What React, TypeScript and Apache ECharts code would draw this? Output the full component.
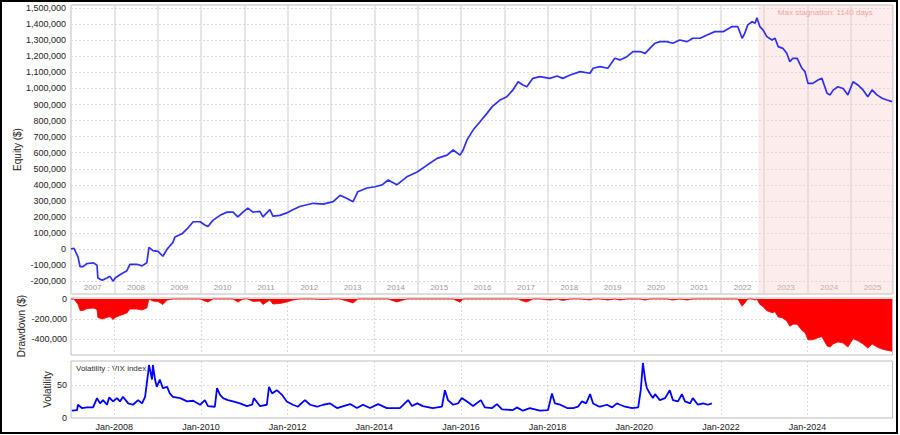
import React, { useEffect, useRef } from 'react';
import * as echarts from 'echarts';

// ---- Equity curve (decimal year, $) ----
const equityYears = [
  2007.0, 2007.07, 2007.12, 2007.16, 2007.21, 2007.28, 2007.37, 2007.48, 2007.51, 2007.6,
  2007.62, 2007.72, 2007.83, 2007.9, 2007.97, 2008.02, 2008.13, 2008.29, 2008.36, 2008.52,
  2008.64, 2008.75, 2008.8, 2008.89, 2009.01, 2009.12, 2009.22, 2009.35, 2009.4, 2009.56,
  2009.68, 2009.82, 2009.98, 2010.09, 2010.16, 2010.28, 2010.44, 2010.6, 2010.74, 2010.85,
  2010.97, 2011.08, 2011.2, 2011.36, 2011.43, 2011.59, 2011.66, 2011.82, 2011.98, 2012.12,
  2012.28, 2012.59, 2012.82, 2013.05, 2013.21, 2013.37, 2013.51, 2013.62, 2013.83, 2014.02,
  2014.18, 2014.32, 2014.52, 2014.75, 2014.99, 2015.22, 2015.45, 2015.68, 2015.82, 2015.98,
  2016.05, 2016.14, 2016.28, 2016.44, 2016.6, 2016.72, 2016.9, 2017.06, 2017.2, 2017.32,
  2017.43, 2017.52, 2017.66, 2017.82, 2018.05, 2018.22, 2018.35, 2018.52, 2018.75, 2018.98,
  2019.05, 2019.21, 2019.39, 2019.55, 2019.67, 2019.83, 2019.97, 2020.13, 2020.25, 2020.36,
  2020.48, 2020.59, 2020.75, 2020.89, 2021.05, 2021.22, 2021.35, 2021.52, 2021.68, 2021.86,
  2022.05, 2022.25, 2022.39, 2022.49, 2022.55, 2022.62, 2022.72, 2022.79, 2022.83, 2022.9,
  2022.97, 2023.06, 2023.18, 2023.25, 2023.32, 2023.43, 2023.52, 2023.59, 2023.66, 2023.76,
  2023.87, 2023.94, 2024.01, 2024.12, 2024.24, 2024.33, 2024.45, 2024.52, 2024.59, 2024.7,
  2024.82, 2024.93, 2025.05, 2025.16, 2025.28, 2025.39, 2025.49, 2025.6, 2025.72, 2025.83,
  2025.95,
];
const equityValues = [
  0, 5000, -25000, -48000, -110000, -110000, -90000, -88000, -85000, -100000,
  -180000, -195000, -180000, -170000, -200000, -180000, -160000, -135000, -95000, -95000,
  -105000, -85000, 10000, -10000, -15000, -45000, 0, 40000, 75000, 95000,
  125000, 170000, 170000, 150000, 140000, 180000, 210000, 230000, 230000, 200000,
  230000, 255000, 230000, 235000, 200000, 245000, 205000, 210000, 225000, 245000,
  265000, 285000, 280000, 295000, 335000, 315000, 295000, 357000, 380000, 388000,
  400000, 430000, 400000, 450000, 480000, 523000, 565000, 585000, 617000, 585000,
  617000, 680000, 741000, 793000, 845000, 887000, 928000, 949000, 991000, 1042000,
  1022000, 1011000, 1063000, 1074000, 1063000, 1078000, 1063000, 1084000, 1105000, 1095000,
  1126000, 1136000, 1126000, 1188000, 1178000, 1198000, 1230000, 1230000, 1219000, 1250000,
  1282000, 1292000, 1292000, 1282000, 1302000, 1292000, 1313000, 1313000, 1333000, 1354000,
  1354000, 1385000, 1385000, 1313000, 1344000, 1396000, 1416000, 1406000, 1440000, 1385000,
  1365000, 1323000, 1302000, 1313000, 1261000, 1250000, 1219000, 1167000, 1188000, 1188000,
  1126000, 1105000, 1032000, 1032000, 1053000, 1063000, 970000, 960000, 990000, 1011000,
  1000000, 960000, 1042000, 1022000, 991000, 949000, 991000, 960000, 939000, 928000,
  918000,
];

// ---- VIX index (decimal year, level) ----
const vixYears = [
  2007.02, 2007.14, 2007.16, 2007.25, 2007.37, 2007.51, 2007.6, 2007.67, 2007.74, 2007.83,
  2007.88, 2007.97, 2008.06, 2008.13, 2008.2, 2008.32, 2008.43, 2008.55, 2008.64, 2008.71,
  2008.78, 2008.8, 2008.87, 2008.89, 2008.94, 2008.98, 2009.05, 2009.12, 2009.22, 2009.28,
  2009.35, 2009.52, 2009.68, 2009.82, 2009.98, 2010.09, 2010.16, 2010.32, 2010.37, 2010.44,
  2010.51, 2010.62, 2010.74, 2010.9, 2011.06, 2011.18, 2011.22, 2011.36, 2011.52, 2011.57,
  2011.64, 2011.75, 2011.87, 2011.98, 2012.12, 2012.24, 2012.28, 2012.4, 2012.52, 2012.68,
  2012.82, 2012.98, 2013.14, 2013.44, 2013.6, 2013.74, 2013.9, 2014.09, 2014.29, 2014.43,
  2014.59, 2014.78, 2014.87, 2014.99, 2015.12, 2015.35, 2015.56, 2015.63, 2015.7, 2015.82,
  2015.93, 2016.02, 2016.14, 2016.28, 2016.46, 2016.55, 2016.72, 2016.83, 2016.95, 2017.2,
  2017.29, 2017.43, 2017.59, 2017.82, 2018.01, 2018.1, 2018.17, 2018.29, 2018.45, 2018.59,
  2018.7, 2018.79, 2018.89, 2018.98, 2019.05, 2019.16, 2019.21, 2019.37, 2019.49, 2019.6,
  2019.67, 2019.79, 2019.95, 2020.09, 2020.15, 2020.2, 2020.25, 2020.29, 2020.36, 2020.43,
  2020.48, 2020.59, 2020.71, 2020.82, 2020.89, 2021.01, 2021.1, 2021.17, 2021.29, 2021.35,
  2021.47, 2021.59, 2021.7, 2021.79,
];
const vixValues = [
  11, 12, 20, 15, 16, 16, 30, 22, 27, 20,
  31, 25, 30, 25, 32, 22, 20, 27, 22, 32,
  68, 80, 58, 80, 58, 47, 58, 45, 47, 37,
  32, 30, 25, 26, 20, 27, 18, 17, 45, 35,
  30, 27, 25, 22, 18, 20, 30, 18, 20, 47,
  37, 42, 35, 25, 20, 17, 20, 27, 20, 17,
  20, 22, 15, 21, 15, 20, 15, 21, 15, 15,
  15, 27, 18, 22, 18, 15, 17, 42, 27, 20,
  22, 30, 25, 18, 27, 16, 15, 21, 13, 12,
  16, 11, 15, 11, 12, 37, 22, 20, 15, 15,
  17, 25, 22, 36, 22, 18, 17, 20, 16, 22,
  20, 17, 15, 16, 42, 83, 58, 45, 37, 30,
  36, 27, 30, 42, 27, 25, 36, 25, 22, 30,
  20, 22, 20, 22,
];

// ---- axes / labels ----
const yearBands = [2007, 2008, 2009, 2010, 2011, 2012, 2013, 2014, 2015, 2016, 2017, 2018, 2019, 2020, 2021, 2022, 2023, 2024, 2025];
const bottomTickYears = [2008, 2010, 2012, 2014, 2016, 2018, 2020, 2022, 2024];
const equityTicks = [-200000, -100000, 0, 100000, 200000, 300000, 400000, 500000, 600000, 700000, 800000, 900000, 1000000, 1100000, 1200000, 1300000, 1400000, 1500000];
const drawdownTicks = [0, -200000, -400000];
const volTicks = [0, 50];
const stagnationStart = 2022.86;
const stagnationDays = 1140;

const X_MIN = 2007;
const X_MAX = 2025.96;
const FONT = '"Liberation Sans", Arial, sans-serif';

const fmt = (v: number) => {
  const s = String(Math.abs(Math.round(v))).replace(/\B(?=(\d{3})+(?!\d))/g, ',');
  return v < 0 ? '-' + s : s;
};

export default function App() {
  const ref = useRef<HTMLDivElement>(null);
  useEffect(() => {
    const chart = echarts.init(ref.current!, null, { renderer: 'svg' });

    const equityData = equityYears.map((y, i) => [y, equityValues[i]]);
    let peak = -Infinity;
    const ddData = equityYears.map((y, i) => {
      peak = Math.max(peak, equityValues[i]);
      return [y, equityValues[i] - peak];
    });
    const vixData = vixYears.map((y, i) => [y, vixValues[i]]);

    const gridCommon = { left: 71, right: 7.5, show: true, borderColor: '#bdbdbd', borderWidth: 1, backgroundColor: '#fff' };
    const dashed = { show: true, lineStyle: { color: '#dadada', type: [2, 2] as any, width: 1 } };

    const option: any = {
      animation: false,
      backgroundColor: '#fff',
      textStyle: { fontFamily: FONT },
      grid: [
        { ...gridCommon, top: 5, height: 289 },
        { ...gridCommon, top: 298, height: 57 },
        { ...gridCommon, top: 361, height: 57 },
      ],
      xAxis: [
        {
          type: 'value', gridIndex: 0, min: X_MIN, max: X_MAX, interval: 1,
          axisLine: { show: false }, axisTick: { show: false },
          splitLine: { show: true, lineStyle: { color: '#dedede', width: 1.5 } },
          axisLabel: {
            show: true, inside: true, customValues: yearBands.map((y) => y + 0.5),
            formatter: (v: number) => String(Math.floor(v)), color: '#9a9a9a', fontSize: 8, margin: 3, fontFamily: FONT,
          },
        },
        {
          type: 'value', gridIndex: 1, min: X_MIN, max: X_MAX,
          axisLine: { show: false }, axisTick: { show: false, customValues: bottomTickYears },
          splitLine: dashed, axisLabel: { show: false, customValues: bottomTickYears },
        },
        {
          type: 'value', gridIndex: 2, min: X_MIN, max: X_MAX,
          axisLine: { show: false }, axisTick: { show: false, customValues: bottomTickYears },
          splitLine: dashed,
          axisLabel: {
            show: true, customValues: bottomTickYears, formatter: (v: number) => 'Jan-' + Math.round(v),
            color: '#222', fontSize: 9, margin: 4, fontFamily: FONT,
          },
        },
      ],
      yAxis: [
        {
          type: 'value', gridIndex: 0, min: -280000, max: 1520000,
          axisLine: { show: false }, axisTick: { show: false, customValues: equityTicks },
          splitLine: dashed,
          axisLabel: { customValues: equityTicks, formatter: fmt, color: '#222', fontSize: 9, margin: 5, fontFamily: FONT },
        },
        {
          type: 'value', gridIndex: 1, min: -560000, max: 10000,
          axisLine: { show: false }, axisTick: { show: false, customValues: drawdownTicks },
          splitLine: dashed,
          axisLabel: { customValues: drawdownTicks, formatter: fmt, color: '#222', fontSize: 9, margin: 4, fontFamily: FONT },
        },
        {
          type: 'value', gridIndex: 2, min: 0, max: 86,
          axisLine: { show: false }, axisTick: { show: false, customValues: volTicks },
          splitLine: dashed,
          axisLabel: { customValues: volTicks, color: '#222', fontSize: 9, margin: 4, fontFamily: FONT },
        },
      ],
      series: [
        {
          type: 'line', xAxisIndex: 0, yAxisIndex: 0, data: equityData, showSymbol: false,
          lineStyle: { color: '#2f2ff2', width: 1.7 }, z: 3,
          markArea: {
            silent: true,
            itemStyle: { color: 'rgba(250, 205, 205, 0.38)' },
            label: {
              show: true, position: 'insideTop', distance: 3,
              formatter: 'Max stagnation: ' + stagnationDays + ' days',
              color: '#f4a3a3', fontSize: 8, fontFamily: FONT,
            },
            data: [[{ xAxis: stagnationStart }, { xAxis: X_MAX }]],
          },
        },
        {
          type: 'line', xAxisIndex: 1, yAxisIndex: 1, data: ddData, showSymbol: false,
          lineStyle: { color: '#ff0000', width: 0.8 }, areaStyle: { color: '#ff0000', opacity: 1 },
        },
        {
          type: 'line', xAxisIndex: 2, yAxisIndex: 2, data: vixData, showSymbol: false,
          lineStyle: { color: '#0000ff', width: 1.8 },
        },
      ],
      graphic: [
        {
          type: 'rect', silent: true, z: 100,
          shape: { x: 1, y: 1, width: 896, height: 432 },
          style: { fill: 'none', stroke: '#000', lineWidth: 2 },
        },
        {
          type: 'text', x: 17, y: 149.5, rotation: Math.PI / 2,
          style: { text: 'Equity ($)', fill: '#222', font: '10px ' + FONT, textAlign: 'center', textVerticalAlign: 'middle' },
        },
        {
          type: 'text', x: 21.5, y: 326, rotation: Math.PI / 2,
          style: { text: 'Drawdown ($)', fill: '#222', font: '10px ' + FONT, textAlign: 'center', textVerticalAlign: 'middle' },
        },
        {
          type: 'text', x: 47.5, y: 389.5, rotation: Math.PI / 2,
          style: { text: 'Volatility', fill: '#222', font: '10px ' + FONT, textAlign: 'center', textVerticalAlign: 'middle' },
        },
        {
          type: 'text', x: 76, y: 368,
          style: { text: 'Volatility : VIX index', fill: '#333', font: '8px ' + FONT, textAlign: 'left', textVerticalAlign: 'middle' },
        },
      ],
    };
    chart.setOption(option);
    return () => chart.dispose();
  }, []);
  return (
    <div
      ref={ref}
      style={{ position: 'absolute', left: 0, top: 0, width: 900, height: 435, background: '#fff' }}
    />
  );
}
